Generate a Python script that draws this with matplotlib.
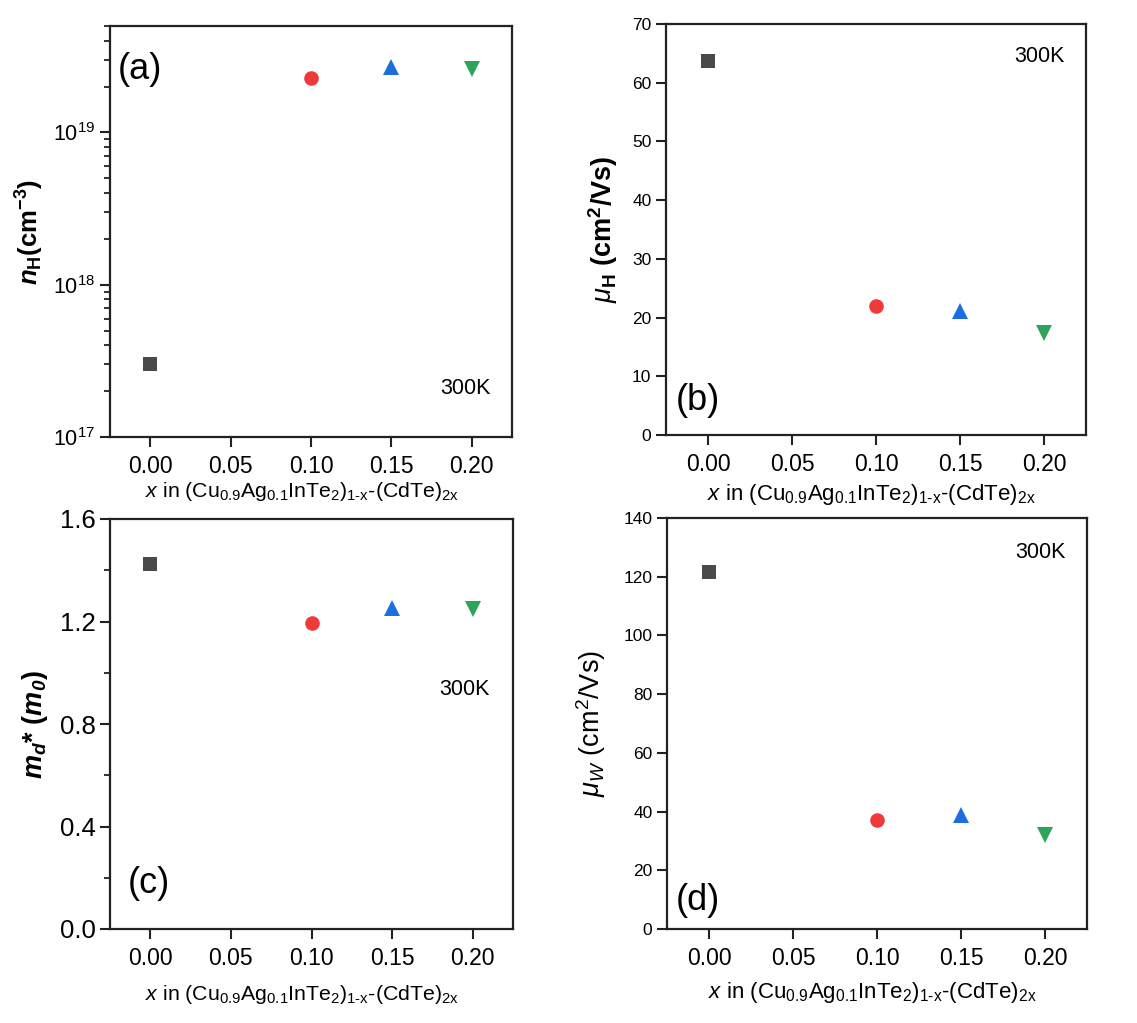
import matplotlib
matplotlib.use("Agg")
import matplotlib.pyplot as plt
from matplotlib.ticker import MultipleLocator, LogLocator, NullLocator, NullFormatter

plt.rcParams['font.family'] = ['Liberation Sans', 'DejaVu Sans']
plt.rcParams['mathtext.fontset'] = 'custom'
plt.rcParams['mathtext.rm'] = 'Liberation Sans'
plt.rcParams['mathtext.it'] = 'Liberation Sans:italic'
plt.rcParams['mathtext.bf'] = 'Liberation Sans:bold'
plt.rcParams['mathtext.bfit'] = 'Liberation Sans:bold:italic'
plt.rcParams['mathtext.sf'] = 'Liberation Sans'

# ---- data ----
x_vals = [0.00, 0.10, 0.15, 0.20]
n_H = [3.0e17, 2.27e19, 2.7e19, 2.6e19]          # cm^-3
mu_H = [63.7, 22.0, 21.2, 17.4]                  # cm^2/Vs
m_d = [1.424, 1.195, 1.252, 1.248]               # m0
mu_W = [121.6, 37.1, 39.0, 32.0]                 # cm^2/Vs

markers = ['s', 'o', '^', 'v']
colors = ['#4a4a4a', '#ef3a3a', '#1c6ee0', '#2ea35a']
msizes = [9.5, 10.5, 11.5, 11.5]

xlabel = r'$x$ in (Cu$_{0.9}$Ag$_{0.1}$InTe$_{2}$)$_{\mathrm{1\text{-}x}}$-(CdTe)$_{\mathrm{2x}}$'

fig = plt.figure(figsize=(11.37, 10.23), dpi=100)
W, H = 1137, 1023

def make_ax(l, r, t, b):
    return fig.add_axes([l / W, 1 - b / H, (r - l) / W, (b - t) / H])

axa = make_ax(110, 512, 26, 437)
axb = make_ax(666, 1086, 24, 435)
axc = make_ax(110, 513, 519, 929)
axd = make_ax(667, 1087, 518, 929)

def style(ax):
    for s in ['top', 'right', 'left', 'bottom']:
        ax.spines[s].set_linewidth(1.6)
        ax.spines[s].set_color('#222222')
    ax.tick_params(which='both', direction='out', top=False, right=False,
                   color='#222222')
    ax.tick_params(which='major', length=7, width=1.5)
    ax.tick_params(which='minor', length=4, width=1.3)
    ax.set_xlim(-0.025, 0.225)
    ax.xaxis.set_minor_locator(NullLocator())
    ax.set_xticks([0.0, 0.05, 0.10, 0.15, 0.20])
    ax.set_xticklabels(['0.00', '0.05', '0.10', '0.15', '0.20'])
    ax.tick_params(axis='x', labelsize=16.5, pad=6)

def plot_pts(ax, y):
    for xi, yi, m, c, ms in zip(x_vals, y, markers, colors, msizes):
        ax.plot([xi], [yi], linestyle='none', marker=m, color=c,
                markersize=ms, markeredgewidth=0)

# (a)
style(axa)
axa.set_yscale('log')
axa.set_ylim(1e17, 5e19)
axa.yaxis.set_major_locator(LogLocator(base=10, numticks=10))
axa.yaxis.set_minor_locator(LogLocator(base=10, subs=range(2, 10), numticks=20))
axa.yaxis.set_minor_formatter(NullFormatter())
axa.tick_params(axis='y', labelsize=15.5)
plot_pts(axa, n_H)
axa.set_ylabel(r'$\mathbfit{n}_{\mathbf{H}}$(cm$^{\mathbf{-3}}$)', fontsize=18.5,
               fontweight='bold')
axa.yaxis.set_label_coords(-0.16, 0.5)
axa.set_xlabel(xlabel, fontsize=15.3)
axa.xaxis.set_label_coords(0.477, -0.105)
axa.text(0.075, 0.893, '(a)', transform=axa.transAxes, fontsize=26,
         ha='center', va='center')
axa.text(0.883, 0.119, '300K', transform=axa.transAxes, fontsize=15.5,
         ha='center', va='center')

# (b)
style(axb)
axb.set_ylim(0, 70)
axb.yaxis.set_major_locator(MultipleLocator(10))
axb.tick_params(axis='y', labelsize=12.5)
plot_pts(axb, mu_H)
axb.set_ylabel(r'$\mu_{\mathbf{H}}$ (cm$^{\mathbf{2}}$/Vs)', fontsize=19.5,
               fontweight='bold')
axb.yaxis.set_label_coords(-0.11, 0.5)
axb.set_xlabel(xlabel, fontsize=16)
axb.xaxis.set_label_coords(0.488, -0.114)
axb.text(0.075, 0.085, '(b)', transform=axb.transAxes, fontsize=26,
         ha='center', va='center')
axb.text(0.89, 0.92, '300K', transform=axb.transAxes, fontsize=15.5,
         ha='center', va='center')

# (c)
style(axc)
axc.set_ylim(0, 1.6)
axc.yaxis.set_minor_locator(MultipleLocator(0.2))
axc.set_yticks([0.0, 0.4, 0.8, 1.2, 1.6])
axc.set_yticklabels(['0.0', '0.4', '0.8', '1.2', '1.6'])
axc.tick_params(axis='y', labelsize=18.5)
plot_pts(axc, m_d)
axc.set_ylabel(r'$\mathbfit{m}_{\mathbfit{d}}$* ($\mathbfit{m}_{\mathbfit{0}}$)',
               fontsize=19.5, fontweight='bold')
axc.yaxis.set_label_coords(-0.15, 0.5)
axc.set_xlabel(xlabel, fontsize=15.3)
axc.xaxis.set_label_coords(0.477, -0.132)
axc.text(0.097, 0.112, '(c)', transform=axc.transAxes, fontsize=26,
         ha='center', va='center')
axc.text(0.88, 0.583, '300K', transform=axc.transAxes, fontsize=15.5,
         ha='center', va='center')

# (d)
style(axd)
axd.set_ylim(0, 140)
axd.yaxis.set_major_locator(MultipleLocator(20))
axd.tick_params(axis='y', labelsize=12.5)
plot_pts(axd, mu_W)
axd.set_ylabel(r'$\mu_{W}$ (cm$^{2}$/Vs)', fontsize=19.5)
axd.yaxis.set_label_coords(-0.14, 0.5)
axd.set_xlabel(xlabel, fontsize=16)
axd.xaxis.set_label_coords(0.49, -0.124)
axd.text(0.073, 0.07, '(d)', transform=axd.transAxes, fontsize=26,
         ha='center', va='center')
axd.text(0.888, 0.917, '300K', transform=axd.transAxes, fontsize=15.5,
         ha='center', va='center')

fig.savefig('out.png', dpi=100, facecolor='white')
